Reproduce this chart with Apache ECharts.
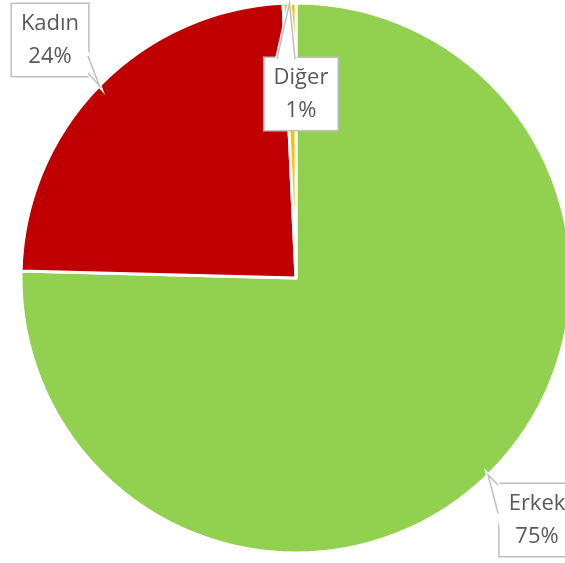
<!DOCTYPE html>
<html>
<head>
<meta charset="utf-8">
<script src="https://cdn.jsdelivr.net/npm/echarts@6/dist/echarts.min.js"></script>
<style>
  html, body { margin: 0; padding: 0; background: #fff; }
  #chart { width: 565px; height: 563px; }
</style>
</head>
<body>
<div id="chart"></div>
<script>
const categories = ["Erkek", "Kadın", "Diğer"];
const shares = [75.4, 23.85, 0.75];
const colors = ["#92D050", "#C00000", "#FFC000"];

const pieCenter = [296, 278];
const pieRadius = 275;

// callout boxes: label centre and the base of the pointer on the box edge
const callouts = {
  "Erkek": { at: [537, 520], base: [[498, 485], [498, 513]] },
  "Kadın": { at: [50, 40], base: [[88, 56], [88, 73]] },
  "Diğer": { at: [301, 94], base: [[277, 59], [295, 59]] }
};

// pointer tip = middle of each slice on the outer rim
const total = shares.reduce((a, b) => a + b, 0);
let acc = 0;
const tips = shares.map((v) => {
  const mid = ((acc + v / 2) / total) * Math.PI * 2;
  acc += v;
  return [
    pieCenter[0] + pieRadius * Math.sin(mid),
    pieCenter[1] - pieRadius * Math.cos(mid)
  ];
});

const pointers = [];
categories.forEach((name, i) => {
  const b = callouts[name].base;
  const pts = [b[0], tips[i], b[1]];
  pointers.push({
    type: "polygon",
    z: 10,
    shape: { points: pts },
    style: { fill: "#fff", stroke: "#fff", lineWidth: 4 },
    silent: true
  });
  pointers.push({
    type: "polyline",
    z: 11,
    shape: { points: pts },
    style: { fill: null, stroke: "#BFBFBF", lineWidth: 1.5 },
    silent: true
  });
});

const chart = echarts.init(document.getElementById("chart"));

chart.setOption({
  animation: false,
  graphic: pointers,
  series: [
    {
      type: "pie",
      center: pieCenter,
      radius: pieRadius,
      startAngle: 90,
      clockwise: true,
      data: categories.map((name, i) => ({
        name: name,
        value: shares[i],
        itemStyle: { color: colors[i] }
      })),
      itemStyle: { borderColor: "#fff", borderWidth: 3 },
      label: {
        show: true,
        position: "inside",
        overflow: "none",
        formatter: (p) => p.name + "\n" + Math.round(p.percent) + "%",
        fontFamily: "Open Sans",
        fontSize: 22,
        lineHeight: 33,
        color: "#595959",
        backgroundColor: "#fff",
        borderColor: "#BFBFBF",
        borderWidth: 1.5,
        padding: [6, 9, 0, 9]
      },
      labelLine: { show: false },
      labelLayout: (params) => {
        const spot = callouts[categories[params.dataIndex]].at;
        return {
          x: spot[0],
          y: spot[1],
          align: "center",
          verticalAlign: "middle"
        };
      },
      emphasis: { disabled: true }
    }
  ]
});
</script>
</body>
</html>
